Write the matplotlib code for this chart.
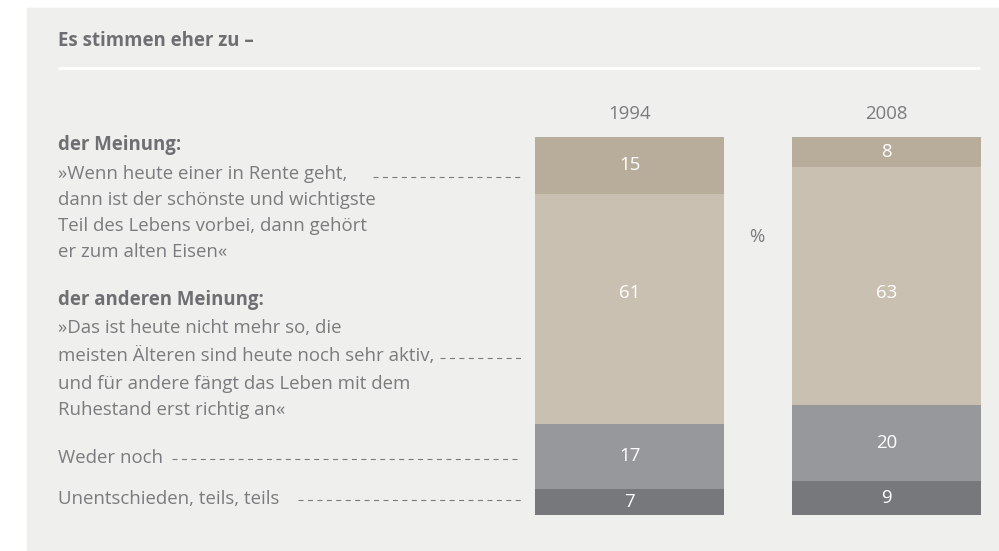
import matplotlib
matplotlib.use("Agg")
import matplotlib.pyplot as plt
import numpy as np
from matplotlib.patches import Rectangle

# ==========================================
# DATA
# ==========================================
YEARS = ["1994", "2008"]
SEGMENTS = ["Meinung", "andere Meinung", "Weder noch", "Unentschieden"]
VALUES_1994 = [15, 61, 17, 7]
VALUES_2008 = [8, 63, 20, 9]

TITLE = "Es stimmen eher zu –"
UNIT = "%"

# ==========================================
# STYLE
# ==========================================
W, H = 999, 551
DPI = 100
BG = "#efefed"
TEXT = "#7a7b7e"
TEXT_DARK = "#6e6f72"
SEG_COLORS = ["#b8ad9b", "#c9c0b1", "#97989b", "#77787c"]
FONT = ["Open Sans", "DejaVu Sans"]
FS = 13.4

plt.rcParams["font.family"] = FONT

fig = plt.figure(figsize=(W / DPI, H / DPI), dpi=DPI, facecolor="white")

# overlay axes in pixel coordinates (origin top-left)
bg = fig.add_axes([0, 0, 1, 1])
bg.set_xlim(0, W)
bg.set_ylim(H, 0)
bg.axis("off")
bg.add_patch(Rectangle((27, 8), W - 27, H - 9, color=BG, zorder=0))

bg.text(58, 41, TITLE, fontsize=FS, fontweight="bold", color=TEXT_DARK,
        va="center", ha="left")
bg.plot([58, 980], [68, 68], color="white", lw=2, solid_capstyle="butt")

# left-hand labels: (y, text, bold)
lines = [
    (145, "der Meinung:", True),
    (174, "»Wenn heute einer in Rente geht,", False),
    (200, "dann ist der schönste und wichtigste", False),
    (226, "Teil des Lebens vorbei, dann gehört", False),
    (252, "er zum alten Eisen«", False),
    (300, "der anderen Meinung:", True),
    (328, "»Das ist heute nicht mehr so, die", False),
    (356, "meisten Älteren sind heute noch sehr aktiv,", False),
    (384, "und für andere fängt das Leben mit dem", False),
    (410, "Ruhestand erst richtig an«", False),
    (458, "Weder noch", False),
    (499, "Unentschieden, teils, teils", False),
]
for y, s, bold in lines:
    bg.text(58, y, s, fontsize=FS, color=TEXT_DARK if bold else TEXT,
            fontweight="bold" if bold else "normal", va="center", ha="left")

# dashed leader lines: (x_start, y)
leaders = [(373, 177), (440, 358), (172, 459), (298, 500)]
for x0, y in leaders:
    bg.plot([x0, 521], [y, y], color=TEXT, lw=0.8, ls=(0, (4.5, 4)))

# ==========================================
# BARS
# ==========================================
bar_left, bar_right = 535, 981
bar_top, bar_bottom = 137, 515
width = 189 / 257
pad = width / 2
ax = fig.add_axes([bar_left / W, 1 - bar_bottom / H,
                   (bar_right - bar_left) / W, (bar_bottom - bar_top) / H])
ax.set_xlim(-pad, 1 + pad)
ax.set_ylim(100, 0)
ax.axis("off")

x = np.arange(len(YEARS))
data = np.array([VALUES_1994, VALUES_2008])
bottoms = np.zeros(len(YEARS))
for j, name in enumerate(SEGMENTS):
    vals = data[:, j]
    ax.bar(x, vals, width=width, bottom=bottoms, color=SEG_COLORS[j],
           edgecolor="none", align="center")
    centers = bottoms + vals / 2
    if j == 1:
        # the big middle block shares one label height across both bars
        centers = np.full(len(YEARS), centers.mean() - 1.2)
    for i, v in enumerate(vals):
        ax.text(x[i], centers[i], str(v), color="white", fontsize=FS,
                ha="center", va="center")
    bottoms = bottoms + vals

for i, yr in enumerate(YEARS):
    ax.text(x[i], -6.2, yr, color=TEXT, fontsize=FS, ha="center",
            va="center", clip_on=False)

bg.text(757, 237, UNIT, color=TEXT, fontsize=FS, ha="center", va="center")

fig.savefig("out.png", dpi=DPI, facecolor="white")
